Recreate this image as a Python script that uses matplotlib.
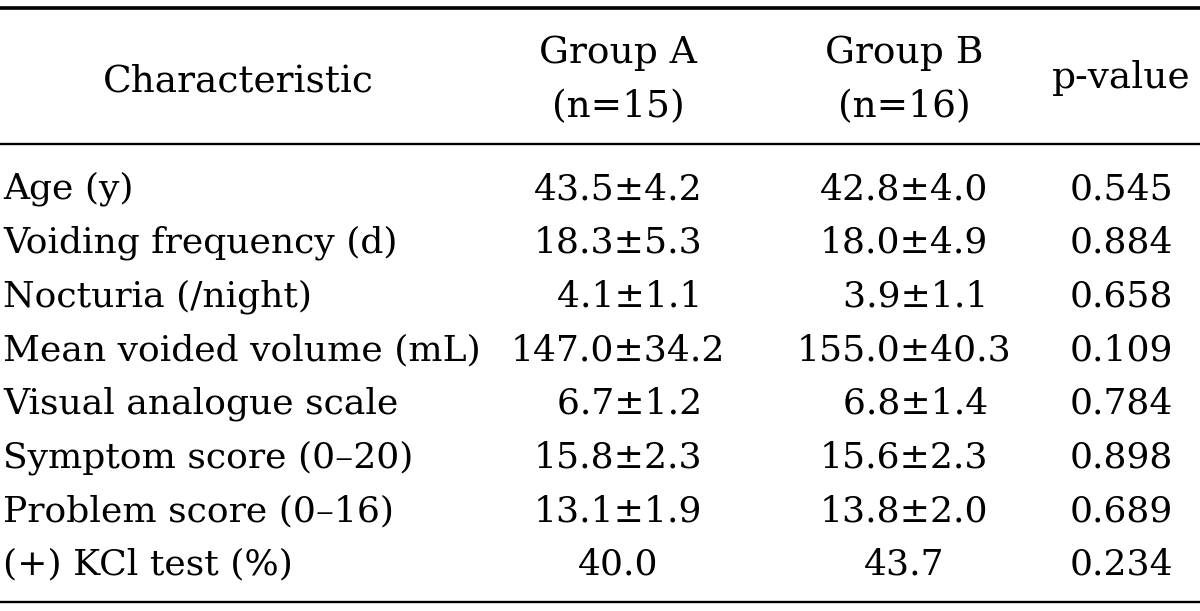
import matplotlib
matplotlib.use("Agg")
import matplotlib.pyplot as plt

# table content
characteristics = ["Age (y)", "Voiding frequency (d)", "Nocturia (/night)",
                   "Mean voided volume (mL)", "Visual analogue scale",
                   "Symptom score (0\u201320)", "Problem score (0\u201316)",
                   "(+) KCl test (%)"]
group_a = ["43.5\u00b14.2", "18.3\u00b15.3", "4.1\u00b11.1", "147.0\u00b134.2",
           "6.7\u00b11.2", "15.8\u00b12.3", "13.1\u00b11.9", "40.0"]
group_b = ["42.8\u00b14.0", "18.0\u00b14.9", "3.9\u00b11.1", "155.0\u00b140.3",
           "6.8\u00b11.4", "15.6\u00b12.3", "13.8\u00b12.0", "43.7"]
p_values = ["0.545", "0.884", "0.658", "0.109", "0.784", "0.898", "0.689", "0.234"]
headers = ["Characteristic", "Group A\n(n=15)", "Group B\n(n=16)", "p-value"]

plt.rcParams["font.family"] = ["DejaVu Serif"]
fs = 26
fs_head = 27

fig = plt.figure(figsize=(12, 6.11), dpi=100)
ax = fig.add_axes([0, 0, 1, 1])
ax.set_xlim(0, 1200)
ax.set_ylim(611, 0)
ax.axis("off")

col_x = [238, 618, 904, 1121]


def pad(s):
    # keep one-digit values lined up with two-digit ones
    head = s.split(".")[0]
    return "\u2007" + s if len(head) == 1 else s


# header
ax.text(col_x[0], 91, headers[0], fontsize=fs_head, ha="center", va="baseline")
for x, h in zip(col_x[1:3], headers[1:3]):
    top, bottom = h.split("\n")
    ax.text(x, 63, top, fontsize=fs_head, ha="center", va="baseline")
    ax.text(x, 117, bottom, fontsize=fs_head, ha="center", va="baseline")
ax.text(col_x[3], 88, headers[3], fontsize=fs_head, ha="center", va="baseline")

# body rows
for i, name in enumerate(characteristics):
    y = 199 + i * 53.7
    ax.text(3, y, name, fontsize=fs, ha="left", va="baseline")
    ax.text(col_x[1], y, pad(group_a[i]), fontsize=fs, ha="center", va="baseline")
    ax.text(col_x[2], y, pad(group_b[i]), fontsize=fs, ha="center", va="baseline")
    ax.text(col_x[3], y, p_values[i], fontsize=fs, ha="center", va="baseline")

# rules
ax.axhline(7.5, color="black", lw=2.6)
ax.axhline(143.5, color="black", lw=1.7)
ax.axhline(601.5, color="black", lw=1.7)

fig.savefig("out.png", dpi=100)
